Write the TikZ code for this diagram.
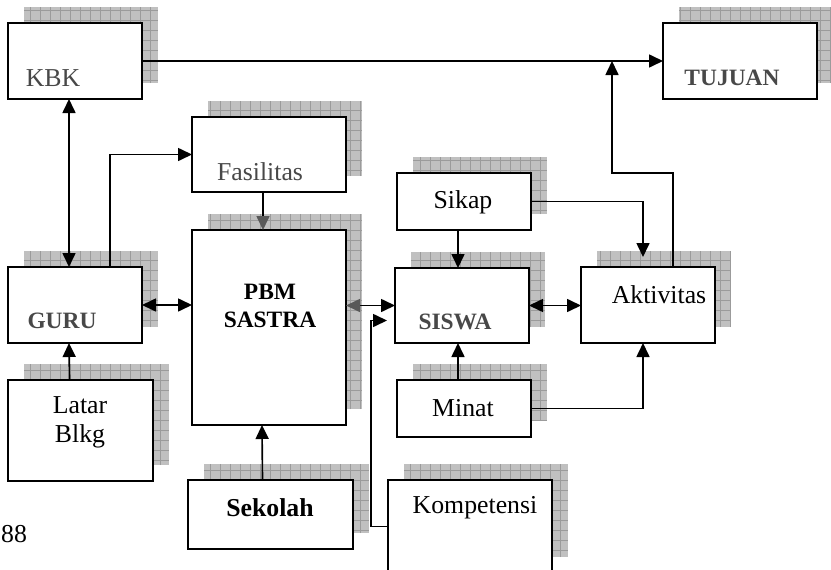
\documentclass[tikz,border=0pt]{standalone}
\usepackage{fontspec}
\setmainfont{Liberation Serif}
\usetikzlibrary{calc,fit,arrows.meta,backgrounds}
\definecolor{shadeGray}{RGB}{192,192,192}
\definecolor{gridGray}{RGB}{155,155,155}
\definecolor{textGray}{RGB}{72,72,72}
\tikzset{
  kotak/.style={draw,fill=white,line width=1.3pt,inner sep=0pt,outer sep=0pt},
  panah/.style={line width=1.4pt,-{Triangle[length=4.2mm,width=3.9mm]}},
  duapanah/.style={line width=1.4pt,{Triangle[length=4.2mm,width=3.9mm]}-{Triangle[length=4.2mm,width=3.9mm]}},
  teks/.style={font=\fontsize{22}{25}\selectfont,inner sep=0pt,align=center},
  teksAbu/.style={teks,text=textGray},
  teksTebal/.style={font=\bfseries\fontsize{20}{24}\selectfont,inner sep=0pt,align=center},
  teksTebalAbu/.style={teksTebal,text=textGray}
}
\newcommand{\Kotak}[3]{%
  \node[kotak,fit={(#2)(#3)}] (#1) {};
  \begin{scope}[on background layer]
    \fill[shadeGray] ($(#1.south west)+(16,-16)$) rectangle ($(#1.north east)+(16,-16)$);
    \draw[gridGray,line width=0.5pt,step=3mm] ($(#1.south west)+(16,-16)$) grid ($(#1.north east)+(16,-16)$);
  \end{scope}}

\begin{document}
\begin{tikzpicture}[x=0.3mm,y=-0.3mm]
  \useasboundingbox (0,0) rectangle (831,569);
  \Kotak{kbk}{8,23}{142,99}
  \Kotak{tujuan}{663,23}{817,99}
  \Kotak{fasilitas}{192,117}{346,192}
  \Kotak{pbm}{192,230}{346,425}
  \Kotak{guru}{8,267}{142,343}
  \Kotak{latar}{8,380}{153,481}
  \Kotak{sekolah}{188,480}{353,549}
  \Kotak{komp}{388,480}{552,573}
  \Kotak{sikap}{397,173}{531,230}
  \Kotak{siswa}{395,268}{529,343}
  \Kotak{minat}{397,380}{531,437}
  \Kotak{akt}{581,267}{715,343}

  \node[teksAbu] (kbkT) at (53,78) {KBK};
  \node[teksTebalAbu] (tujuanT) at (732,78) {TUJUAN};
  \node[teksAbu] (fasilitasT) at (260,172) {Fasilitas};
  \node[teksTebal] (pbmT) at (270,306) {PBM\\SASTRA};
  \node[teksTebalAbu] (guruT) at (62,321) {GURU};
  \node[teks] (latarT) at (80,422) {Latar\\Blkg};
  \node[teks] (sekolahT) at (270,508) {\bfseries Sekolah};
  \node[teks] (kompT) at (475,508) {Kompetensi};
  \node[teks] (sikapT) at (463,202) {Sikap};
  \node[teksTebalAbu] (siswaT) at (455,322) {SISWA};
  \node[teks] (minatT) at (463,408) {Minat};
  \node[teks] (aktT) at (659,295) {Aktivitas};
  \node[teks,anchor=west] (halaman) at (1,534) {88};

  \coordinate (kompTip) at ($(siswa.west)+(-8,15)$);

  \draw[panah] (kbk.east) -- (tujuan.west);
  \draw[panah] ($(akt.north)+(25,0)$) -- ++(0,-94) -| ($(tujuan.west)+(-51,0)$);
  \draw[duapanah] ($(kbk.south)+(-6,0)$) -- ($(guru.north)+(-6,0)$);
  \draw[panah] ($(guru.north)+(35,0)$) |- (fasilitas.west);
  \draw[line width=1.4pt,-{Triangle[length=4.2mm,width=3.9mm,color=black!65]}] ($(fasilitas.south)+(-6,0)$) -- ($(pbm.north)+(-6,0)$);
  \draw[duapanah] (guru.east) -- (guru.east -| pbm.west);
  \draw[line width=1.4pt,{Triangle[length=4.2mm,width=3.9mm,color=black!65]}-{Triangle[length=4.2mm,width=3.9mm]}] (siswa.west -| pbm.east) -- (siswa.west);
  \draw[panah] (komp.west) -- ++(-17,0) |- (kompTip);
  \draw[panah] ($(sikap.south)+(-6,0)$) -- ($(siswa.north)+(-4,0)$);
  \draw[panah] (sikap.east) -| ($(akt.north)+(-5,-10)$);
  \draw[duapanah] (siswa.east) -- (siswa.east -| akt.west);
  \draw[panah] ($(minat.north)+(-6,0)$) -- ($(siswa.south)+(-4,0)$);
  \draw[panah] (minat.east) -| ($(akt.south)+(-5,0)$);
  \draw[panah] ($(sekolah.north)+(-8,0)$) -- ($(pbm.south)+(-7,0)$);
  \draw[panah] ($(latar.north)+(-11,0)$) -- ($(guru.south)+(-6,0)$);
\end{tikzpicture}
\end{document}
